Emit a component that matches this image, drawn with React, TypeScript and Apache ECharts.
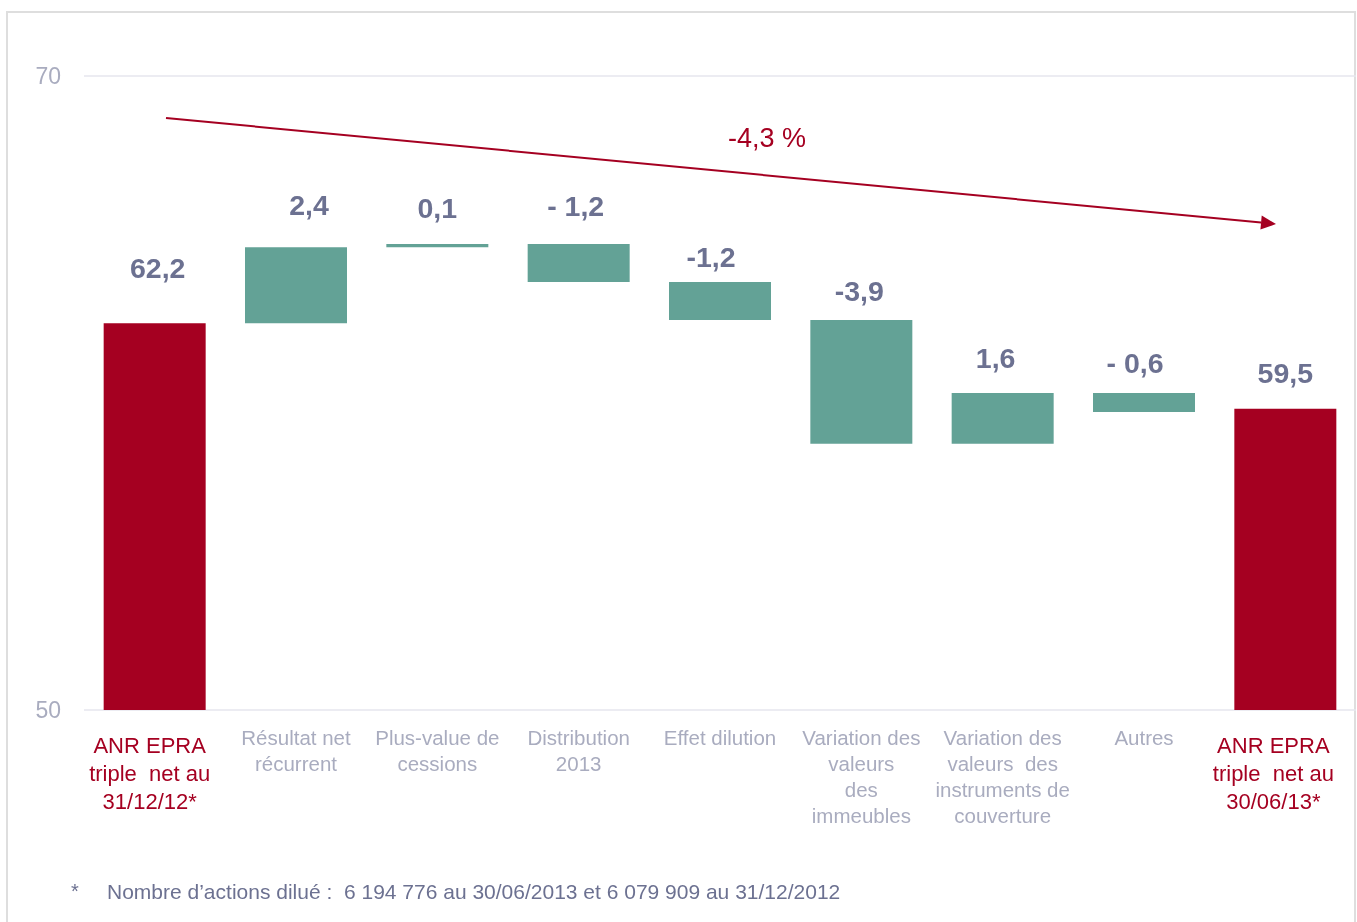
import React, { useEffect, useRef } from "react";
import * as echarts from "echarts";

const categories = [
  "ANR EPRA\ntriple  net au\n31/12/12*",
  "Résultat net\nrécurrent",
  "Plus-value de\ncessions",
  "Distribution\n2013",
  "Effet dilution",
  "Variation des\nvaleurs\ndes\nimmeubles",
  "Variation des\nvaleurs  des\ninstruments de\ncouverture",
  "Autres",
  "ANR EPRA\ntriple  net au\n30/06/13*",
];
const startValue = 62.2;
const endValue = 59.5;
const deltas = [2.4, 0.1, -1.2, -1.2, -3.9, 1.6, -0.6];
const valueLabels = ["62,2", "2,4", "0,1", "- 1,2", "-1,2", "-3,9", "1,6", "- 0,6", "59,5"];
const yMin = 50;
const yMax = 70;
const yInterval = 20;
const changeLabel = "-4,3 %";
const footnote = "Nombre d\u2019actions dilué :  6 194 776 au 30/06/2013 et 6 079 909 au 31/12/2012";

// style-only: label lift and horizontal shift per bar
const labelGap = [41, 28, 22, 24, 11, 15, 21, 16, 21];
const labelShift = [3, 13, 0, -3, -9, -2, -7, -9, 0];

const RED = "#a50021";
const TEAL = "#63a296";
const LABEL = "#6c7191";
const AXIS_GRAY = "#a9acbf";
const FONT = "'Liberation Sans', Arial, Helvetica, sans-serif";

export default function App() {
  const ref = useRef<HTMLDivElement>(null);

  useEffect(() => {
    if (!ref.current) return;
    const chart = echarts.init(ref.current, undefined, { renderer: "svg" });

    const base: number[] = [0];
    const heights: number[] = [startValue];
    let running = startValue;
    deltas.forEach((d) => {
      const next = running + d;
      base.push(Math.min(running, next));
      heights.push(Math.abs(d));
      running = next;
    });
    base.push(0);
    heights.push(endValue);
    const last = categories.length - 1;

    // arrow geometry
    const x1 = 166, y1 = 118, tx = 1276, ty = 224;
    const len = Math.hypot(tx - x1, ty - y1);
    const ux = (tx - x1) / len, uy = (ty - y1) / len;
    const hl = 15, hw = 7;
    const bx = tx - ux * hl, by = ty - uy * hl;

    chart.setOption({
      animation: false,
      textStyle: { fontFamily: FONT },
      grid: {
        left: 84,
        right: 1,
        top: 76,
        bottom: 212,
        containLabel: false,
        outerBoundsMode: "none",
      },
      xAxis: {
        type: "category",
        data: categories,
        axisLine: { show: false },
        axisTick: { show: false },
        axisLabel: {
          interval: 0,
          margin: 14,
          formatter: (value: string, index: number) => {
            const st = index === 0 ? "r1" : index === last ? "r2" : "g";
            const lines = value.split("\n").map((l) => `{${st}|${l}}`).join("\n");
            return st === "g" ? lines : `{s| }\n${lines}`;
          },
          rich: {
            r1: { color: RED, fontSize: 22, lineHeight: 28, fontFamily: FONT, padding: [0, 10, 0, 0] },
            r2: { color: RED, fontSize: 22, lineHeight: 28, fontFamily: FONT, padding: [0, 24, 0, 0] },
            g: { color: AXIS_GRAY, fontSize: 20.5, lineHeight: 26, fontFamily: FONT },
            s: { fontSize: 1, lineHeight: 7 },
          },
        },
      },
      yAxis: {
        type: "value",
        min: yMin,
        max: yMax,
        interval: yInterval,
        axisLine: { show: false },
        axisTick: { show: false },
        axisLabel: { color: AXIS_GRAY, fontSize: 23, margin: 23, fontFamily: FONT },
        splitLine: { lineStyle: { color: "#e6e6ee", width: 1.5 } },
      },
      series: [
        {
          type: "bar",
          stack: "w",
          silent: true,
          barWidth: 102,
          itemStyle: { color: "transparent" },
          data: base,
        },
        {
          type: "bar",
          stack: "w",
          barWidth: 102,
          data: heights.map((v, i) => ({
            value: v,
            itemStyle: { color: i === 0 || i === last ? RED : TEAL },
            label: { distance: labelGap[i], offset: [labelShift[i], 0] },
          })),
          label: {
            show: true,
            position: "top",
            color: LABEL,
            fontSize: 28.5,
            fontWeight: "bold",
            fontFamily: FONT,
            formatter: (p: any) => valueLabels[p.dataIndex],
          },
        },
      ],
      graphic: [
        {
          type: "rect",
          shape: { x: 7, y: 12, width: 1348, height: 930 },
          style: { fill: "none", stroke: "#dedede", lineWidth: 2 },
          silent: true,
        },
        {
          type: "line",
          shape: { x1, y1, x2: bx, y2: by },
          style: { stroke: RED, lineWidth: 2 },
        },
        {
          type: "polygon",
          shape: {
            points: [
              [tx, ty],
              [bx - uy * hw, by + ux * hw],
              [bx + uy * hw, by - ux * hw],
            ],
          },
          style: { fill: RED },
        },
        {
          type: "text",
          x: 767,
          y: 138,
          style: {
            text: changeLabel,
            fill: RED,
            fontSize: 27,
            fontFamily: FONT,
            textAlign: "center",
            textVerticalAlign: "middle",
          },
        },
        {
          type: "text",
          x: 71,
          y: 891,
          style: {
            text: "*",
            fill: LABEL,
            fontSize: 20,
            fontFamily: FONT,
            textVerticalAlign: "middle",
          },
        },
        {
          type: "text",
          x: 107,
          y: 891,
          style: {
            text: footnote,
            fill: LABEL,
            fontSize: 21,
            fontFamily: FONT,
            textVerticalAlign: "middle",
          },
        },
      ],
    });

    return () => chart.dispose();
  }, []);

  return (
    <div
      ref={ref}
      style={{ position: "fixed", left: 0, top: 0, width: 1357, height: 922 }}
    />
  );
}
